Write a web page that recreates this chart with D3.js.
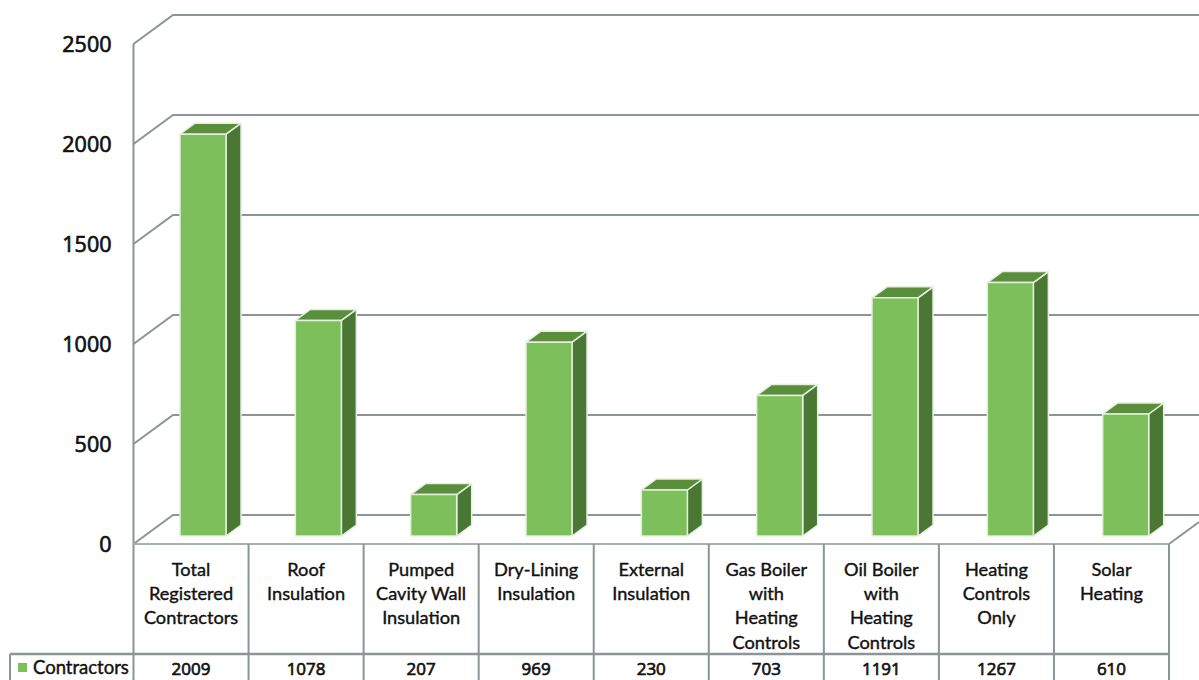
<!DOCTYPE html>
<html lang="en">
<head>
<meta charset="UTF-8">
<title>Registered contractors by measure</title>
<script src="https://d3js.org/d3.v7.min.js"></script>
<style>
  html, body { margin: 0; padding: 0; background: #fff; overflow: hidden; }
  text { font-family: Lato, "Open Sans", sans-serif; fill: #111; stroke: #111; stroke-width: 0.4px; }
  text.num { font-family: "Open Sans", sans-serif; stroke-width: 0.7px; }
</style>
</head>
<body>
<script>
var categories = ["Total Registered Contractors", "Roof Insulation", "Pumped Cavity Wall Insulation",
  "Dry-Lining Insulation", "External Insulation", "Gas Boiler with Heating Controls",
  "Oil Boiler with Heating Controls", "Heating Controls Only", "Solar Heating"];
var categoryLines = [["Total", "Registered", "Contractors"], ["Roof", "Insulation"], ["Pumped", "Cavity Wall", "Insulation"],
  ["Dry-Lining", "Insulation"], ["External", "Insulation"], ["Gas Boiler", "with", "Heating", "Controls"],
  ["Oil Boiler", "with", "Heating", "Controls"], ["Heating", "Controls", "Only"], ["Solar", "Heating"]];
var contractors = [2009, 1078, 207, 969, 230, 703, 1191, 1267, 610];
var yTicks = [0, 500, 1000, 1500, 2000, 2500];
var seriesName = "Contractors";

var width = 1199, height = 680;
var wallDx = 39.5, wallDy = -29;   // depth of the chart box
var barDx = 15, barDy = -11;       // depth of a column
var gridColor = "#8b9496", barFront = "#7dbf5a", barTop = "#5a8e3c", barSide = "#4a7733";

var svg = d3.select("body").append("svg").attr("width", width).attr("height", height);

// table cells and columns sit on slightly different spacings
var x = d3.scaleBand().domain(categories).range([133.5, 1169]);
var xBar = d3.scaleBand().domain(categories).range([133.5, 1171.5]);
var y = d3.scaleLinear().domain([0, 2500]).range([544, 44]);
var barWidth = x.bandwidth() * 0.4;
var barLeft = function(c) { return xBar(c) + 46.5; };
var barBase = y(0) - 8;

// walls and gridlines
var grid = svg.append("g").attr("fill", "none").attr("stroke", gridColor).attr("stroke-width", 2);
grid.selectAll("path.wall").data(yTicks).enter().append("path").attr("class", "wall")
  .attr("d", function(t) {
    return "M" + x.range()[0] + "," + y(t) + "L" + (x.range()[0] + wallDx) + "," + (y(t) + wallDy) + "L" + width + "," + (y(t) + wallDy);
  });
grid.append("line").attr("x1", x.range()[0]).attr("x2", x.range()[0]).attr("y1", y(2500)).attr("y2", height);
// floor edge on the right
grid.append("line").attr("x1", x.range()[1]).attr("y1", y(0)).attr("x2", width).attr("y2", y(0) + wallDy * 0.76);

// y axis labels
svg.append("g").selectAll("text").data(yTicks).enter().append("text")
  .attr("class", "num")
  .attr("x", 111.5).attr("y", function(t) { return y(t); }).attr("dy", "0.36em")
  .attr("text-anchor", "end").attr("font-size", 21.5)
  .text(function(t) { return t; });

// 3d columns
var bars = svg.append("g").selectAll("g").data(categories).enter().append("g")
  .attr("stroke", "#e4efdd").attr("stroke-width", 1.5).attr("stroke-linejoin", "round");
bars.append("path").attr("fill", barSide).attr("d", function(c, i) {
  var l = barLeft(c) + barWidth, t = barBase - (y(0) - y(contractors[i]));
  return "M" + l + "," + t + "l" + barDx + "," + barDy + "L" + (l + barDx) + "," + (barBase + barDy) + "L" + l + "," + barBase + "Z";
});
bars.append("path").attr("fill", barTop).attr("d", function(c, i) {
  var l = barLeft(c), t = barBase - (y(0) - y(contractors[i]));
  return "M" + l + "," + t + "l" + barDx + "," + barDy + "h" + barWidth + "l" + (-barDx) + "," + (-barDy) + "Z";
});
bars.append("rect").attr("fill", barFront)
  .attr("x", barLeft).attr("width", barWidth)
  .attr("y", function(c, i) { return barBase - (y(0) - y(contractors[i])); })
  .attr("height", function(c, i) { return y(0) - y(contractors[i]); });

// data table under the chart
var table = svg.append("g").attr("stroke", gridColor).attr("stroke-width", 2);
table.append("line").attr("x1", x.range()[0]).attr("x2", x.range()[1]).attr("y1", y(0)).attr("y2", y(0)).attr("stroke", "#a9b0b2");
table.append("line").attr("x1", 10).attr("x2", x.range()[1]).attr("y1", 654).attr("y2", 654).attr("stroke-width", 2.5);
table.append("line").attr("x1", 10).attr("x2", 10).attr("y1", 654).attr("y2", height);
table.selectAll("line.cell").data(categories.slice(1).concat(["end"])).enter().append("line").attr("class", "cell")
  .attr("x1", function(c) { return c === "end" ? x.range()[1] : x(c); })
  .attr("x2", function(c) { return c === "end" ? x.range()[1] : x(c); })
  .attr("y1", y(0)).attr("y2", height);

var labels = svg.append("g").selectAll("g").data(categories).enter().append("g");
labels.each(function(c, i) {
  d3.select(this).selectAll("text").data(categoryLines[i]).enter().append("text")
    .attr("x", x(c) + x.bandwidth() / 2).attr("y", function(d, j) { return 576 + j * 24.2; })
    .attr("text-anchor", "middle").attr("font-size", 18.2)
    .text(function(d) { return d; });
});
svg.append("g").selectAll("text").data(contractors).enter().append("text")
  .attr("class", "num")
  .attr("x", function(d, i) { return x(categories[i]) + x.bandwidth() / 2; }).attr("y", 675)
  .attr("text-anchor", "middle").attr("font-size", 17)
  .text(function(d) { return d; });

// legend key
svg.append("rect").attr("x", 18).attr("y", 663).attr("width", 9).attr("height", 9).attr("fill", barFront);
svg.append("text").attr("x", 33).attr("y", 674).attr("font-size", 18.5).text(seriesName);
</script>
</body>
</html>
